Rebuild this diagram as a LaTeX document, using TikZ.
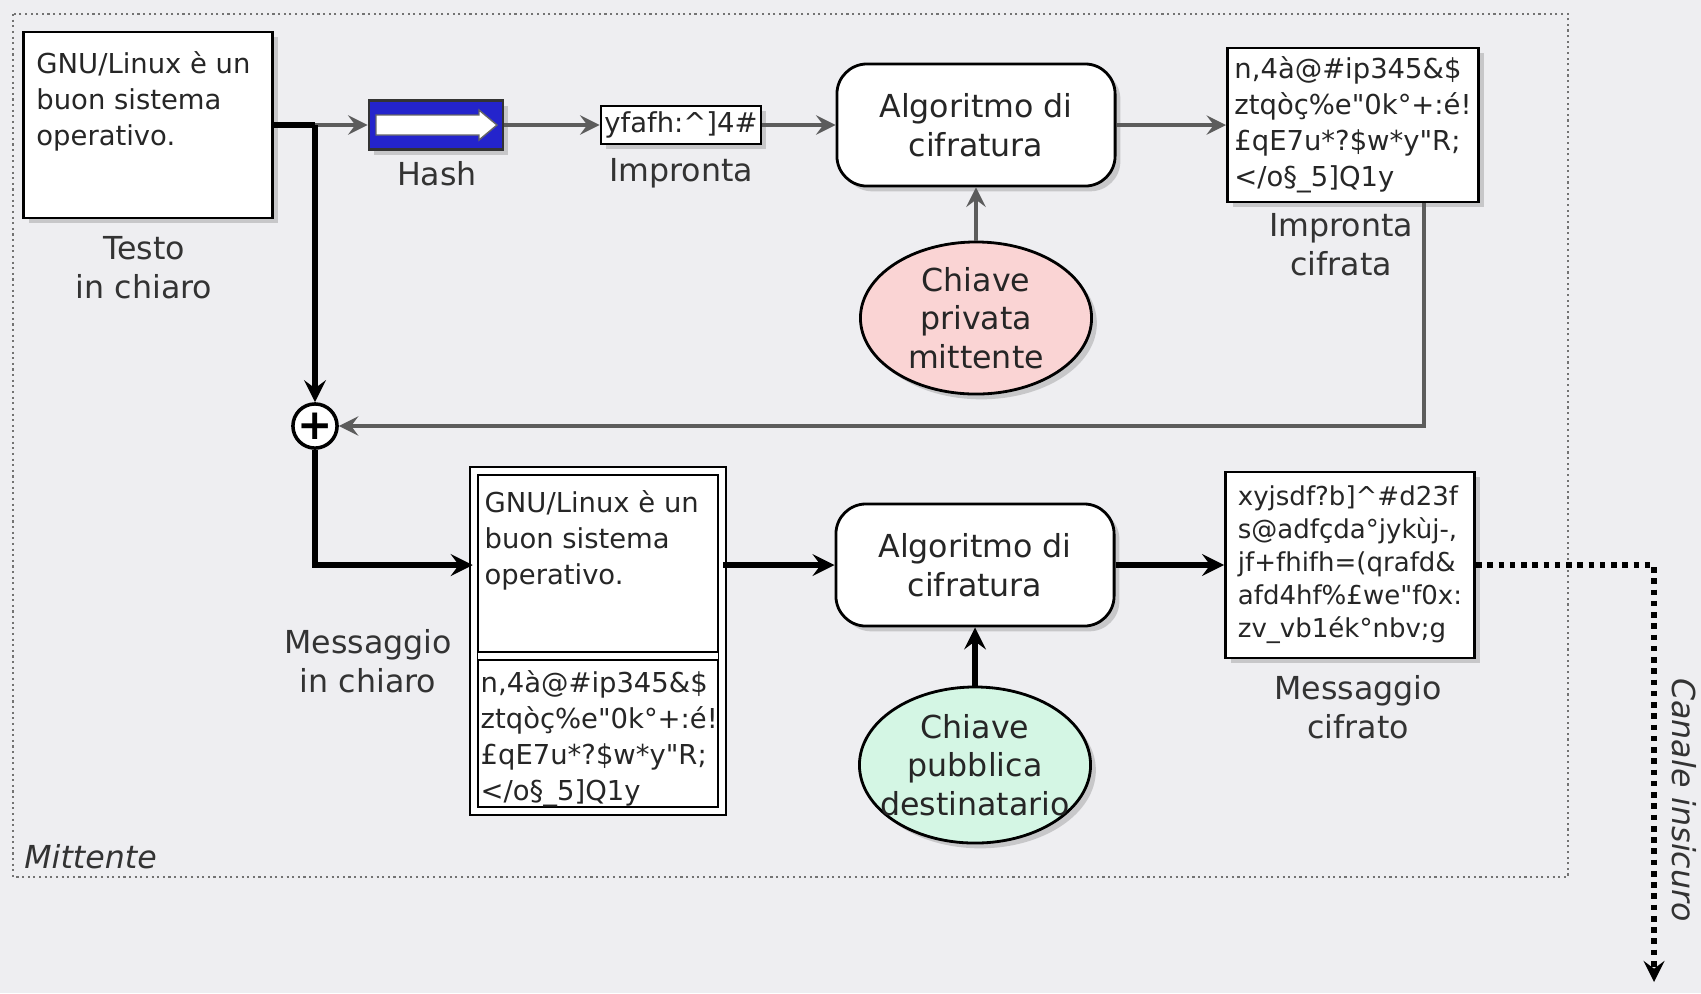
\documentclass[tikz,border=0pt]{standalone}
\usepackage{fontspec}
\setmainfont{DejaVu Sans}[Ligatures=TeXOff]
\usepackage{xcolor}
\usepackage{tikz}
\usetikzlibrary{calc, shapes.geometric, shadows}

\definecolor{sfondo}{RGB}{238,238,241}
\definecolor{grigiolinea}{RGB}{92,92,92}
\definecolor{bluhash}{RGB}{36,36,204}
\definecolor{rosachiave}{RGB}{250,212,212}
\definecolor{verdechiave}{RGB}{212,246,228}

\begin{document}
\begin{tikzpicture}[>=stealth, x=0.01cm, y=-0.01cm,
    ombra/.style={drop shadow={opacity=0.35, shadow xshift=1.5pt, shadow yshift=-1.5pt}},
    scatola/.style={draw, fill=white, line width=0.8pt, ombra},
    piccolo/.style={font=\fontsize{7.8}{10.2}\selectfont, align=left, text=black!85},
    algo/.style={scatola, rounded corners=0.3cm, minimum width=2.78cm, minimum height=1.22cm,
        align=center, font=\fontsize{9}{11}\selectfont, text=black!85},
    chiave/.style={draw, ellipse, line width=0.8pt, minimum width=2.31cm, minimum height=1.52cm,
        inner xsep=-0.15cm, inner ysep=0pt, align=center, font=\fontsize{9}{11}\selectfont,
        text=black!85, ombra},
    etichetta/.style={align=center, font=\fontsize{9}{11}\selectfont, text=black!80},
    grigio/.style={draw=grigiolinea, line width=1.4pt},
    nero/.style={draw=black, line width=1.7pt},
    canale/.style={draw=black, line width=1.6pt, dash pattern=on 1.6pt off 1.6pt},
]

    % =================================================================
    % 1. SFONDO E RIQUADRO DEL MITTENTE
    % =================================================================
    \fill[sfondo] (0,0) rectangle (1701,993);
    \useasboundingbox (0,0) rectangle (1701,993);
    \draw[densely dotted, draw=black!55, line width=0.6pt] (13,14) rectangle (1568,877);
    \node[anchor=west, font=\itshape\fontsize{9}{11}\selectfont, text=black!80] (mittente) at (12,857) {Mittente};

    % =================================================================
    % 2. RIGA SUPERIORE: TESTO, HASH, IMPRONTA, CIFRATURA
    % =================================================================
    \node[scatola, font=\fontsize{7.8}{10.2}\selectfont, text=black!85, inner xsep=0.13cm, inner ysep=0.16cm] (testo) at (148,125)
        {\parbox[t][1.54cm][t]{2.23cm}{\raggedright\vspace*{1pt}GNU/Linux è un\\buon sistema\\operativo.}};
    \node[etichetta] (lbltesto) at (144,268) {Testo\\in chiaro};

    \node[draw=black!80, fill=bluhash, line width=0.8pt, minimum width=1.34cm, minimum height=0.49cm, ombra] (hash) at (436,125) {};
    \draw[fill=white, draw=black!60, line width=0.4pt] (376,115) -- (479,115) -- (479,110) -- (497,125)
        -- (479,140) -- (479,135) -- (376,135) -- cycle;
    \node[etichetta] (lblhash) at (437,174) {Hash};

    \node[scatola, piccolo, minimum width=1.55cm, minimum height=0.38cm, inner sep=1pt] (impr) at (681,125) {yfafh:\textasciicircum]4\#};
    \node[etichetta] (lblimpr) at (681,173) {Impronta};

    \node[algo] (algo1) at (976,125) {Algoritmo di\\cifratura};
    \node[chiave, fill=rosachiave] (key1) at (976,318) {Chiave\\privata\\mittente};

    \node[scatola, piccolo, minimum width=2.48cm, minimum height=1.54cm, inner sep=2pt] (cifr1) at (1353,125)
        {n,4à@\#ip345\&\$\\ztqòç\%e"0k°+:é!\\£qE7u*?\$w*y"R;\\</o§\_5]Q1y};
    \node[etichetta] (lblcifr1) at (1341,245) {Impronta\\cifrata};

    % =================================================================
    % 3. NODO SOMMA
    % =================================================================
    \node[draw, circle, fill=white, line width=1pt, minimum size=0.38cm, inner sep=0pt,
        font=\bfseries\fontsize{12}{12}\selectfont] (plus) at (315,426) {+};

    % =================================================================
    % 4. RIGA INFERIORE: MESSAGGIO, CIFRATURA, MESSAGGIO CIFRATO
    % =================================================================
    \node[draw, double, double distance=1.6pt, line width=0.7pt, fill=white, minimum width=2.48cm,
        minimum height=3.4cm, ombra] (chiaro) at (598,641) {};
    \draw[double, double distance=1.6pt, line width=0.7pt, shorten <=1.4pt, shorten >=1.4pt]
        (chiaro.west |- 0,656) -- (chiaro.east |- 0,656);
    \node[piccolo, anchor=north west, inner sep=0pt] (chiaroA) at (484,490) {GNU/Linux è un\\buon sistema\\operativo.};
    \node[piccolo, anchor=north west, inner sep=0pt] (chiaroB) at (480,670)
        {n,4à@\#ip345\&\$\\ztqòç\%e"0k°+:é!\\£qE7u*?\$w*y"R;\\</o§\_5]Q1y};
    \node[etichetta] (lblchiaro) at (368,661) {Messaggio\\in chiaro};

    \node[algo] (algo2) at (975,565) {Algoritmo di\\cifratura};
    \node[chiave, fill=verdechiave, minimum height=1.56cm] (key2) at (975,765) {Chiave\\pubblica\\destinatario};

    \node[scatola, piccolo, font=\fontsize{7.4}{9.4}\selectfont, minimum width=2.49cm, minimum height=1.86cm, inner sep=1pt] (cifr2) at (1350,565)
        {xyjsdf?b]\textasciicircum\#d23f\\s@adfçda°jykùj-,\\jf+fhifh=(qrafd\&\\afd4hf\%£we"f0x:\\zv\_vb1ék°nbv;g};
    \node[etichetta] (lblcifr2) at (1358,707) {Messaggio\\cifrato};

    % =================================================================
    % 5. COLLEGAMENTI
    % =================================================================
    \coordinate (giunto) at (315,125);
    \coordinate (ritorno) at (1424,426);
    \coordinate (uscita) at (1654,982);

    \draw[nero] (testo.east) -- (giunto);
    \draw[grigio, ->] (giunto) -- (hash);
    \draw[grigio, ->] (hash) -- (impr);
    \draw[grigio, ->] (impr) -- (algo1);
    \draw[grigio, ->] (algo1) -- (cifr1);
    \draw[grigio, ->] (key1) -- (algo1);
    \draw[grigio, ->] (cifr1.south -| ritorno) -- (ritorno) -- (plus);

    \draw[nero, ->] (giunto) -- (plus);
    \draw[nero, ->] (plus) |- (chiaro.west |- algo2);
    \draw[nero, ->] (chiaro.east |- algo2) -- (algo2);
    \draw[nero, ->] (algo2) -- (cifr2);
    \draw[nero, ->] (key2) -- (algo2);

    % canale insicuro verso il destinatario
    \draw[canale, ->] (cifr2) -| (uscita);
    \node[rotate=-90, font=\itshape\fontsize{9}{11}\selectfont, text=black!80] (lblcanale) at (1684,800) {Canale insicuro};

\end{tikzpicture}
\end{document}
